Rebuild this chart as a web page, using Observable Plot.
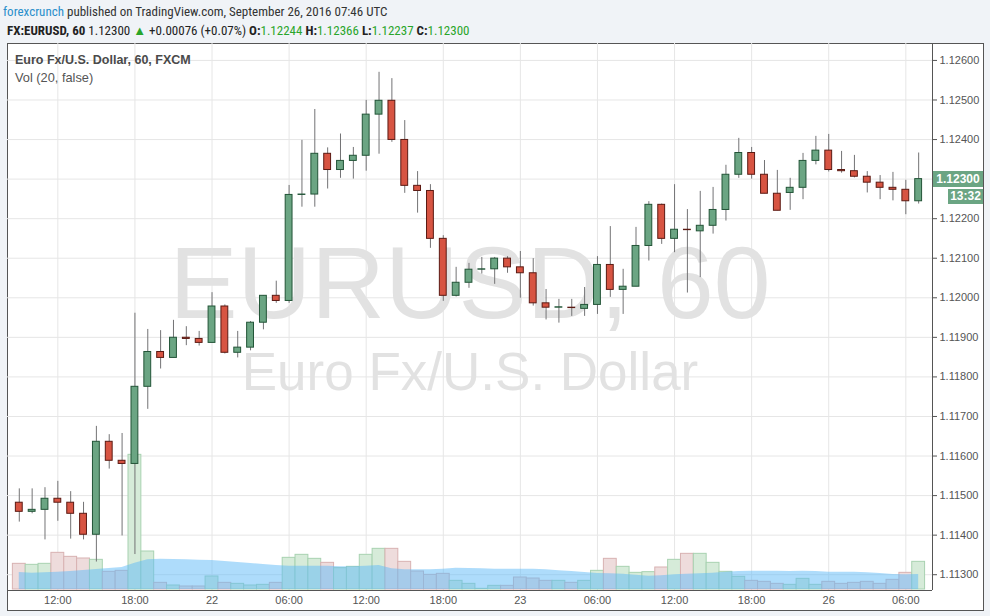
<!DOCTYPE html>
<html><head><meta charset="utf-8">
<script src="https://cdn.jsdelivr.net/npm/d3@7"></script>
<script src="https://cdn.jsdelivr.net/npm/@observablehq/plot@0.6"></script>
<style>
html,body{margin:0;padding:0;}
body{width:990px;height:616px;background:#f0f3f7;position:relative;overflow:hidden;font-family:"Liberation Sans Narrow","Roboto Condensed","Liberation Sans",Arial,sans-serif;}
.abs{position:absolute;white-space:nowrap;}
#h1{left:3px;top:5px;font-size:13px;line-height:13px;color:#333;}
#h1 .user{color:#2a8fcb;}
#h2{left:7px;top:24px;font-size:13px;line-height:13px;color:#222;}
#h2 b{font-weight:bold;}
#h2 .g{color:#2aa52a;}
#frame{left:7px;top:43px;width:977px;height:568px;box-sizing:border-box;border:1px solid #555;background:#fff;}
.layer{position:absolute;left:7px;top:43px;}
#leg1{left:15px;top:54px;font-family:"Liberation Sans",Arial,sans-serif;font-size:12.5px;line-height:13px;font-weight:bold;color:#4a4a4a;}
#leg2{left:15px;top:71px;font-family:"Liberation Sans",Arial,sans-serif;font-size:12.8px;line-height:13px;color:#555;}
.plabel{position:absolute;background:#6ba583;color:#fff;font-weight:bold;font-family:"Liberation Sans",Arial,sans-serif;font-size:12px;text-align:center;}
</style></head>
<body>
<div id="h1" class="abs"><span class="user">forexcrunch</span> published on TradingView.com, September 26, 2016 07:46 UTC</div>
<div id="h2" class="abs"><b>FX:EURUSD, 60</b> 1.12300 <span class="g">&#9650;</span> +0.00076 (+0.07%) <b>O:</b><span class="g">1.12244</span> <b>H:</b><span class="g">1.12366</span> <b>L:</b><span class="g">1.12237</span> <b>C:</b><span class="g">1.12300</span></div>
<div id="frame" class="abs"></div>
<div id="l1" class="layer"></div>
<div id="l2" class="layer"></div>
<div id="l3" class="layer"></div>
<div id="leg1" class="abs">Euro Fx/U.S. Dollar, 60, FXCM</div>
<div id="leg2" class="abs">Vol (20, false)</div>
<script>
// ---- data (hourly bars, 21 Sep 09:00 -> 26 Sep 07:00 UTC) ----
const open = [1.11482,1.11459,1.11464,1.11492,1.11482,1.11454,1.11401,1.11636,1.11588,1.11580,1.11775,1.11863,1.11848,1.11899,1.11896,1.11886,1.11978,1.11861,1.11874,1.11937,1.12005,1.11992,1.12260,1.12261,1.12364,1.12323,1.12346,1.12359,1.12463,1.12498,1.12399,1.12283,1.12270,1.12149,1.12005,1.12038,1.12071,1.12072,1.12099,1.12077,1.12062,1.11986,1.11975,1.11975,1.11972,1.11982,1.12083,1.12020,1.12028,1.12131,1.12235,1.12149,1.12172,1.12168,1.12182,1.12222,1.12311,1.12366,1.12311,1.12263,1.12265,1.12278,1.12346,1.12372,1.12323,1.12320,1.12306,1.12291,1.12278,1.12273,1.12244];
const high = [1.11517,1.11517,1.11520,1.11536,1.11510,1.11483,1.11675,1.11654,1.11657,1.11961,1.11920,1.11917,1.11943,1.11927,1.11915,1.12013,1.11982,1.11915,1.11940,1.12005,1.12042,1.12284,1.12398,1.12476,1.12379,1.12414,1.12380,1.12499,1.12570,1.12554,1.12448,1.12319,1.12286,1.12157,1.12077,1.12087,1.12102,1.12102,1.12104,1.12117,1.12099,1.12021,1.11996,1.11996,1.12026,1.12104,1.12180,1.12072,1.12178,1.12243,1.12237,1.12286,1.12223,1.12269,1.12279,1.12335,1.12403,1.12380,1.12347,1.12322,1.12302,1.12365,1.12408,1.12413,1.12370,1.12360,1.12319,1.12309,1.12317,1.12297,1.12366];
const low = [1.11433,1.11454,1.11388,1.11435,1.11390,1.11388,1.11332,1.11567,1.11398,1.11351,1.11718,1.11820,1.11848,1.11879,1.11878,1.11886,1.11858,1.11848,1.11866,1.11919,1.11986,1.11986,1.12229,1.12229,1.12275,1.12302,1.12300,1.12320,1.12363,1.12393,1.12264,1.12214,1.12125,1.11991,1.12002,1.12024,1.12060,1.12034,1.12062,1.11999,1.11979,1.11944,1.11936,1.11953,1.11953,1.11958,1.12001,1.11958,1.12028,1.12093,1.12135,1.12114,1.12012,1.12051,1.12161,1.12194,1.12302,1.12300,1.12263,1.12220,1.12221,1.12248,1.12336,1.12318,1.12315,1.12303,1.12265,1.12248,1.12245,1.12210,1.12237];
const close = [1.11459,1.11464,1.11492,1.11482,1.11454,1.11401,1.11636,1.11588,1.11580,1.11775,1.11863,1.11848,1.11899,1.11896,1.11886,1.11978,1.11861,1.11874,1.11937,1.12005,1.11992,1.12260,1.12261,1.12364,1.12323,1.12346,1.12359,1.12463,1.12498,1.12399,1.12283,1.12270,1.12149,1.12005,1.12038,1.12071,1.12072,1.12099,1.12077,1.12062,1.11986,1.11975,1.11976,1.11974,1.11982,1.12083,1.12020,1.12028,1.12131,1.12235,1.12149,1.12172,1.12171,1.12182,1.12222,1.12311,1.12366,1.12311,1.12263,1.12220,1.12278,1.12346,1.12372,1.12323,1.12320,1.12306,1.12291,1.12278,1.12273,1.12244,1.12300];
const volume = [770,740,770,1100,980,930,890,530,560,4040,1140,200,120,90,90,390,200,170,120,140,200,950,1040,920,800,640,680,1040,1220,1220,830,540,440,470,260,170,20,110,110,360,330,260,260,200,260,560,920,680,500,520,660,890,1070,1070,800,530,380,260,230,170,140,320,140,230,170,200,230,170,290,500,830];
const volMA = [510,490,500,520,540,570,600,630,660,790,890,910,900,890,880,870,840,810,780,750,720,700,700,700,700,680,680,700,720,620,590,590,590,610,640,630,620,610,610,610,610,590,560,540,510,480,470,460,430,400,410,440,460,470,490,520,540,550,550,550,540,550,540,520,520,520,500,480,450,440,450];
const tickIdx = [3,9,15,21,27,33,39,45,51,57,63,69];
const tickLabels = ["12:00","18:00","22","06:00","12:00","18:00","23","06:00","12:00","18:00","26","06:00"];
const priceTicks = [1.113,1.114,1.115,1.116,1.117,1.118,1.119,1.120,1.121,1.122,1.123,1.124,1.125,1.126];
const lastTime = "13:32";

const rows = open.map((o, i) => ({i, open: o, high: high[i], low: low[i], close: close[i], vol: volume[i], ma: volMA[i], up: close[i] >= o}));
const labelOf = new Map(tickIdx.map((d, k) => [d, tickLabels[k]]));
const lastClose = close[close.length - 1];
// the axis label at the last price is hidden under the price marker
const labelTicks = priceTicks.filter(d => Math.abs(d - lastClose) > 0.0002);

const W = 977, H = 568;
const xDomain = [-0.918, 71.077];
const yDomain = [1.112601, 1.126428];
const base = {width: W, height: H, marginLeft: 0, marginTop: 0, marginRight: 52, marginBottom: 21,
  style: {background: "transparent", color: "#555", fontFamily: "'Liberation Sans', Arial, sans-serif", fontSize: "11px", overflow: "visible"}};

// layer 1: grid + watermark
const p1 = Plot.plot({...base,
  x: {type: "linear", domain: xDomain, axis: null},
  y: {type: "linear", domain: yDomain, axis: null},
  marks: [
    Plot.ruleY(priceTicks, {stroke: "#e6e6e6"}),
    Plot.ruleX(tickIdx, {stroke: "#e6e6e6"}),
    Plot.text(["EURUSD, 60"], {frameAnchor: "top", lineAnchor: "top", dy: 202, fontSize: 102, fill: "#e2e2e2", fontFamily: "'Liberation Sans', Arial, sans-serif"}),
    Plot.text(["Euro Fx/U.S. Dollar"], {frameAnchor: "top", lineAnchor: "top", dy: 309, fontSize: 53, fill: "#e2e2e2", fontFamily: "'Liberation Sans', Arial, sans-serif"})
  ]});
document.getElementById("l1").appendChild(p1);

// layer 2: volume + SMA(20)
const p2 = Plot.plot({...base, marginBottom: 22,
  x: {type: "linear", domain: xDomain, axis: null},
  y: {type: "linear", domain: [0, 16380], axis: null},
  marks: [
    Plot.rect(rows, {x1: d => d.i - 0.5, x2: d => d.i + 0.5, y1: 0, y2: "vol",
      fill: d => d.up ? "#d6ebd9" : "#eedcdc", stroke: d => d.up ? "#a8d2b1" : "#d8b2b2", strokeWidth: 1}),
    Plot.areaY(rows, {x: "i", y: "ma", fill: "rgba(94,186,248,0.5)"})
  ]});
document.getElementById("l2").appendChild(p2);

// layer 3: candles + axes
const p3 = Plot.plot({...base,
  x: {type: "linear", domain: xDomain},
  y: {type: "linear", domain: yDomain},
  marks: [
    Plot.ruleX(rows, {x: "i", y1: "low", y2: "high", stroke: "#737375", strokeWidth: 1}),
    Plot.rect(rows, {x1: d => d.i - 0.5, x2: d => d.i + 0.5, y1: "open", y2: "close", insetLeft: 3, insetRight: 3,
      fill: d => d.up ? "#6ba583" : "#d75442", stroke: d => d.up ? "#225437" : "#5b1a13", strokeWidth: 1}),
    Plot.ruleY([yDomain[0]], {stroke: "#555"}),
    Plot.ruleX([xDomain[1]], {stroke: "#555"}),
    Plot.axisY(priceTicks, {anchor: "right", tickSize: 4, text: null, label: null}),
    Plot.axisY(labelTicks, {anchor: "right", tickSize: 0, tickPadding: 7, tickFormat: d => d.toFixed(5), label: null}),
    Plot.axisX(tickIdx, {anchor: "bottom", tickSize: 0, tickPadding: 6, tickFormat: d => labelOf.get(d), label: null})
  ]});
document.getElementById("l3").appendChild(p3);

// current price + countdown labels, placed through the price scale
const yLast = p3.scale("y").apply(lastClose) + 43;
const b1 = document.createElement("div");
b1.className = "plabel"; b1.textContent = lastClose.toFixed(5);
Object.assign(b1.style, {left: "933px", top: (yLast - 8) + "px", width: "50px", height: "16px", lineHeight: "16px"});
document.body.appendChild(b1);
const b2 = document.createElement("div");
b2.className = "plabel"; b2.textContent = lastTime;
Object.assign(b2.style, {left: "948px", top: (yLast + 10) + "px", width: "35px", height: "15px", lineHeight: "15px"});
document.body.appendChild(b2);
</script>
</body></html>
